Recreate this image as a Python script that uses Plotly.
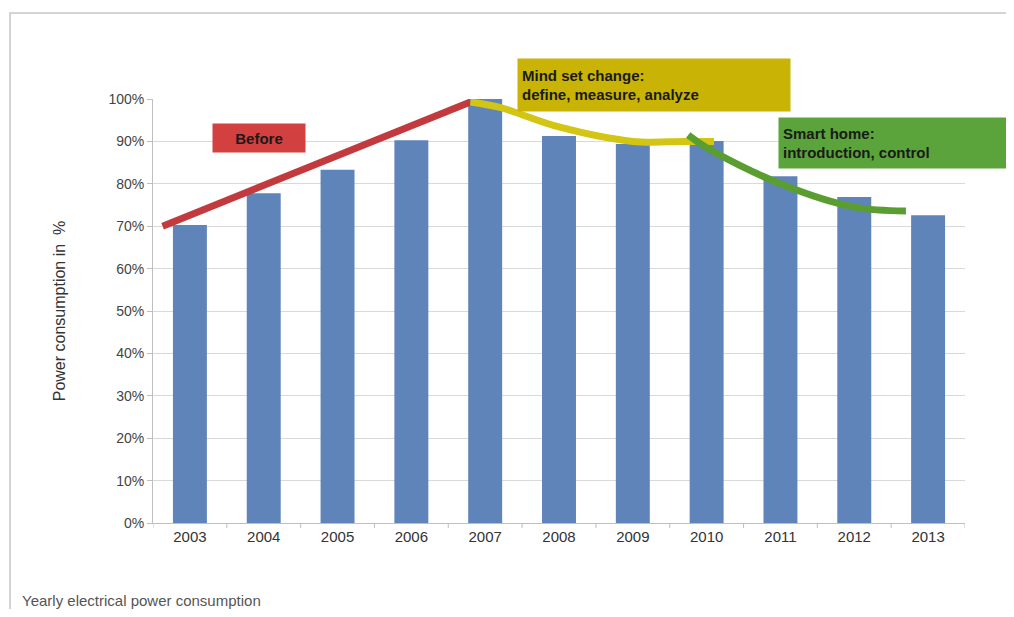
import plotly.graph_objects as go

years = [2003, 2004, 2005, 2006, 2007, 2008, 2009, 2010, 2011, 2012, 2013]
consumption = [70.3, 77.8, 83.3, 90.3, 100.0, 91.3, 89.4, 90.1, 81.8, 76.9, 72.6]

before_x = [2002.63, 2006.8]
before_y = [70.0, 99.3]
mindset_x = [2006.8, 2007.2, 2008.0, 2009.0, 2009.7, 2010.1]
mindset_y = [99.3, 98.0, 93.4, 90.0, 90.0, 90.0]
smart_x = [2009.75, 2010.0, 2011.0, 2012.0, 2012.7]
smart_y = [91.5, 88.5, 80.0, 74.5, 73.6]

ytick_vals = [0, 10, 20, 30, 40, 50, 60, 70, 80, 90, 100]
ytick_text = [f"{v}%" for v in ytick_vals]

OFF = 8  # page body margin
W, H = 1014 - 2 * OFF, 617 - 2 * OFF
L, T = 153 - OFF, 99 - OFF
R = W - (965 - OFF)
B = H - (523 - OFF)
PW, PH = W - L - R, H - T - B


def px(x):
    return (x - OFF - L) / PW


def py(y):
    return (H - B - (y - OFF)) / PH


fig = go.Figure()
fig.add_trace(go.Bar(x=years, y=consumption, width=0.46,
                     marker=dict(color="#5f84ba", line=dict(width=0)),
                     showlegend=False))
fig.add_trace(go.Scatter(x=before_x, y=before_y, mode="lines",
                         line=dict(color="#c23a3e", width=7), showlegend=False))
fig.add_trace(go.Scatter(x=mindset_x, y=mindset_y, mode="lines",
                         line=dict(color="#d2c514", width=7, shape="spline"), showlegend=False))
fig.add_trace(go.Scatter(x=smart_x, y=smart_y, mode="lines",
                         line=dict(color="#5a9e32", width=7, shape="spline"), showlegend=False))

# card frame
fig.add_shape(type="rect", xref="paper", yref="paper",
              x0=px(10), x1=px(1011), y0=py(640), y1=py(13),
              line=dict(color="#d4d4d4", width=2), fillcolor="rgba(0,0,0,0)", layer="below")

fontbox = dict(family="Liberation Sans, Arial, sans-serif", size=15, color="#1a1a1a")

fig.add_annotation(xref="paper", yref="paper", x=px(259), y=py(138),
                   text="<b>Before</b>", showarrow=False, bgcolor="#d2413f",
                   width=90, height=26, font=fontbox, xanchor="center", yanchor="middle")
fig.add_annotation(xref="paper", yref="paper", x=px(517), y=py(58),
                   text="<b>Mind set change:</b><br><b>define, measure, analyze</b>",
                   showarrow=False, bgcolor="#c9b406", align="left", borderpad=4,
                   width=264, height=44, font=fontbox, xanchor="left", yanchor="top")
fig.add_annotation(xref="paper", yref="paper", x=px(778), y=py(117),
                   text="<b>Smart home:</b><br><b>introduction, control</b>",
                   showarrow=False, bgcolor="#5ba33b", align="left", borderpad=4,
                   width=220, height=42, font=fontbox, xanchor="left", yanchor="top")

fig.add_annotation(xref="paper", yref="paper", x=px(20), y=py(600),
                   text="Yearly electrical power consumption", showarrow=False,
                   xanchor="left", yanchor="middle",
                   font=dict(family="Liberation Sans, Arial, sans-serif", size=15, color="#555555"))

fig.update_layout(
    width=W, height=H,
    margin=dict(l=L, r=R, t=T, b=B, autoexpand=False),
    paper_bgcolor="white", plot_bgcolor="white",
    font=dict(family="Liberation Sans, Arial, sans-serif", size=14, color="#333333"),
    xaxis=dict(range=[2002.5, 2013.5], tickvals=years, ticktext=[str(y) for y in years],
               showgrid=False, showline=True, linecolor="#bfbfbf", linewidth=1,
               ticks="", tickfont=dict(size=15, color="#333333"), zeroline=False,
               fixedrange=True),
    yaxis=dict(range=[0, 100], tickvals=ytick_vals, ticktext=ytick_text,
               showgrid=True, gridcolor="#d9d9d9", gridwidth=1,
               showline=True, linecolor="#bfbfbf", linewidth=1,
               ticks="outside", ticklen=5, tickcolor="#bfbfbf",
               tickfont=dict(size=14, color="#444444"), zeroline=False,
               title=dict(text="Power consumption in  %", standoff=38,
                          font=dict(size=16, color="#333333"))),
)

# tick marks between categories on x axis
for b in [2003.5 + i for i in range(10)] + [2002.5, 2013.5]:
    fig.add_shape(type="line", xref="x", yref="paper", x0=b, x1=b, y0=0, y1=-0.012,
                  line=dict(color="#bfbfbf", width=1))

fig.write_html("out.html")
